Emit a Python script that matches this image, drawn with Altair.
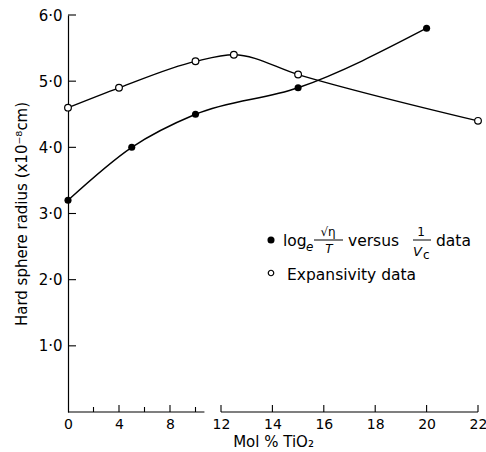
import altair as alt
import pandas as pd

# --- data ---
filled_x = [0, 5, 10, 15, 20]
filled_y = [3.2, 4.0, 4.5, 4.9, 5.8]
open_x = [0, 4, 10, 12.5, 15, 22]
open_y = [4.6, 4.9, 5.3, 5.4, 5.1, 4.4]

x_labels = [0, 4, 8, 12, 14, 16, 18, 20, 22]
x_ticks_major = [4, 8, 12, 14, 16, 18, 20, 22]
x_ticks_minor = [2, 6, 10]
y_ticks = [1, 2, 3, 4, 5, 6]
axis_seg_start = [0, 12]
axis_seg_end = [10.7, 22]

FONT = "DejaVu Sans"
W, H = 418, 397

xscale = alt.Scale(domain=[0, 12, 22], range=[0, 153, 410])
yscale = alt.Scale(domain=[0, 6])

df_f = pd.DataFrame({"x": filled_x, "y": filled_y})
df_o = pd.DataFrame({"x": open_x, "y": open_y})

xaxis = alt.Axis(values=x_labels, ticks=False, domain=False, grid=False,
                 labelFontSize=14, labelPadding=5, labelFont=FONT, labelColor="black",
                 labelFlush=False,
                 title="Mol % TiO₂", titleFontSize=15, titleFont=FONT,
                 titleFontWeight="normal", titlePadding=3, titleColor="black")
yaxis = alt.Axis(values=y_ticks, ticks=False, domain=True, domainColor="black",
                 domainWidth=1.2, grid=False, labelFontSize=15, labelFont=FONT,
                 labelColor="black", labelPadding=6, labelFlush=False,
                 labelExpr="replace(format(datum.value, '.1f'), '.', '·')",
                 title="Hard sphere radius (x10⁻⁸cm)", titleFontSize=15,
                 titleFont=FONT, titleFontWeight="normal", titlePadding=9,
                 titleColor="black")


def X(field):
    return alt.X(field, scale=xscale, axis=xaxis)


def Y(field):
    return alt.Y(field, scale=yscale, axis=yaxis)


line_f = alt.Chart(df_f).mark_line(interpolate="monotone", color="black", strokeWidth=1.4).encode(
    x=X("x:Q"), y=Y("y:Q"))
line_o = alt.Chart(df_o).mark_line(interpolate="monotone", color="black", strokeWidth=1.4).encode(
    x=X("x:Q"), y=Y("y:Q"))
pts_f = alt.Chart(df_f).mark_point(shape="circle", filled=True, color="black", size=50, opacity=1).encode(
    x=X("x:Q"), y=Y("y:Q"))
pts_o = alt.Chart(df_o).mark_point(shape="circle", filled=True, fill="white", stroke="black",
                                   strokeWidth=1.2, size=45, opacity=1).encode(
    x=X("x:Q"), y=Y("y:Q"))

# broken x axis line and inward ticks
seg = alt.Chart(pd.DataFrame({"a": axis_seg_start, "b": axis_seg_end})).mark_rule(
    color="black", strokeWidth=1.2).encode(x=X("a:Q"), x2="b:Q", y=alt.value(H))
tmaj = alt.Chart(pd.DataFrame({"t": x_ticks_major})).mark_rule(color="black", strokeWidth=1.1).encode(
    x=X("t:Q"), y=alt.value(H), y2=alt.value(H - 7))
tmin = alt.Chart(pd.DataFrame({"t": x_ticks_minor})).mark_rule(color="black", strokeWidth=1.1).encode(
    x=X("t:Q"), y=alt.value(H), y2=alt.value(H - 5))
ytk = alt.Chart(pd.DataFrame({"v": y_ticks})).mark_rule(color="black", strokeWidth=1.1).encode(
    y=Y("v:Q"), x=alt.value(0), x2=alt.value(8))

one = pd.DataFrame({"k": [0]})
LS = 15.5


def txt(s, x, y, size=LS, style="normal", align="left"):
    return alt.Chart(one).mark_text(text=s, font=FONT, fontSize=size, fontStyle=style,
                                    align=align, baseline="alphabetic", color="black").encode(
        x=alt.value(x), y=alt.value(y))


def hrule(x1, x2, y):
    return alt.Chart(one).mark_rule(color="black", strokeWidth=1).encode(
        x=alt.value(x1), x2=alt.value(x2), y=alt.value(y))


leg_dot_f = alt.Chart(one).mark_point(shape="circle", filled=True, color="black", size=50, opacity=1).encode(
    x=alt.value(203), y=alt.value(225))
leg_dot_o = alt.Chart(one).mark_point(shape="circle", filled=True, fill="white", stroke="black",
                                      strokeWidth=1.2, size=30, opacity=1).encode(
    x=alt.value(203), y=alt.value(258))

legend = [
    leg_dot_f, leg_dot_o,
    txt("log", 215, 231),
    txt("e", 238, 236, size=12, style="italic"),
    txt("√η", 260, 221, size=12, align="center"),
    hrule(246, 275, 225),
    txt("T", 261, 238, size=12, style="italic", align="center"),
    txt("versus", 280, 231),
    txt("1", 353, 221, size=12, align="center"),
    hrule(345, 363, 225),
    txt("V", 345, 241, size=13, style="italic"),
    txt("c", 355, 244, size=12),
    txt("data", 368, 231),
    txt("Expansivity data", 219, 265),
]

chart = alt.layer(line_f, line_o, pts_f, pts_o, seg, tmaj, tmin, ytk, *legend).properties(
    width=W, height=H,
    autosize=alt.AutoSizeParams(type="none"),
    padding={"left": 68, "top": 15, "right": 0, "bottom": 40},
    background="white",
).configure_view(stroke=None)

chart.save("out.html", embed_options={"renderer": "svg", "actions": False})
